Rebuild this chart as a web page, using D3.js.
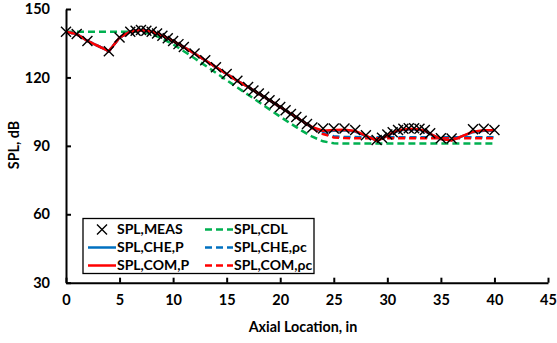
<!DOCTYPE html>
<html>
<head>
<meta charset="utf-8">
<style>
body { margin: 0; background: #fff; }
svg text { font-family: Lato, "Open Sans", sans-serif; font-weight: bold; fill: #000; }
</style>
</head>
<body>
<svg id="chart" width="557" height="343"></svg>
<script src="https://cdn.jsdelivr.net/npm/d3@7"></script>
<script>
var measX = [0, 1, 2, 4, 5, 6, 6.5, 7, 7.5, 8, 8.5, 9, 9.5, 10, 10.5, 11, 12, 13, 14, 15, 16,
             17, 17.5, 18, 18.5, 19, 19.5, 20, 20.5, 21, 21.5, 22, 22.5, 23, 24, 25, 26, 27, 28,
             29, 29.5, 30, 30.5, 31, 31.5, 32, 32.5, 33, 33.5, 34, 35, 36, 38, 39, 40];
var measY = [140, 139, 136, 131.5, 137.5, 140, 140.5, 140.8, 140.5, 140, 139.3, 138.3, 137.2, 136, 134.6, 133.3, 130.5, 127.5, 124.5, 121.5, 118.5,
             115.8, 114.3, 112.9, 111.5, 110, 108.6, 107, 105.6, 104, 102.6, 101, 99.6, 98, 97.6, 97.6, 97.6, 97, 94.7,
             92.6, 93.6, 95, 96, 96.9, 97.5, 97.7, 97.7, 97.5, 96.9, 95.5, 93.3, 93.2, 97.3, 97.5, 97];

var comPY = [140, 139, 136, 131.5, 137.5, 140, 140.5, 140.7, 140.5, 140, 139.3, 138.3, 137.2, 136, 134.6, 133.3, 130.5, 127.5, 124.5, 121.5, 118.5,
             115.8, 114.3, 112.9, 111.5, 110, 108.6, 107, 105.6, 104, 102.6, 101, 99.6, 98.2, 96.6, 96.9, 97.1, 96.5, 94.5,
             92.3, 93.2, 94.5, 95.8, 96.7, 97.2, 97.4, 97.4, 97.2, 96.6, 95.3, 93, 92.4, 96.2, 96.8, 96.8];
var cheP = [140, 139, 136, 131.5, 137.5, 140, 140.5, 140.7, 140.5, 140, 139.3, 138.3, 137.2, 136, 134.6, 133.3, 130.5, 127.5, 124.5, 121.5, 118.5,
            115.8, 114.3, 112.9, 111.5, 110, 108.6, 107, 105.6, 104, 102.6, 101, 99.6, 98, 96.3, 96.6, 96.8, 96.3, 94.3,
            92.4, 93.2, 94.4, 95.6, 96.5, 97, 97.2, 97.2, 97, 96.4, 95.1, 93, 92.5, 96, 96.6, 96.6];

var rhoX = [0, 1, 2, 4, 5, 6, 7, 8, 9, 10, 11, 12, 13, 14, 15, 16, 17, 18, 19, 20, 21, 22, 23, 24, 25, 26, 28, 30, 32, 34, 36, 38, 40];
var cheRho = [140, 139, 136, 131.5, 137.5, 140, 140.7, 140, 138.3, 136, 133.3, 130.5, 127.5, 124.5, 121.5, 118.5, 115.8, 112.9, 110, 107, 104, 101, 98, 95.5, 94.2, 93.9, 93.8, 93.8, 93.8, 93.8, 93.8, 93.8, 93.8];
var comRho = [140, 139, 136, 131.5, 137.5, 140, 140.7, 140, 138.3, 136, 133.3, 130.5, 127.5, 124.5, 121.5, 118.5, 115.8, 112.9, 110, 107, 104, 101, 97.8, 95.2, 93.7, 93.4, 93.3, 93.3, 93.3, 93.3, 93.3, 93.3, 93.3];

var cdlX = [0, 6, 7, 8, 9, 10, 11, 12, 13, 14, 15, 16, 17, 18, 19, 20, 21, 22, 23, 24, 25, 26, 40];
var cdlY = [140, 140, 140, 139, 137, 134.5, 131.5, 128.4, 125.2, 122, 118.8, 115.6, 112.4, 109.2, 106, 102.8, 99.7, 96.7, 94, 92, 91.1, 91, 91];

var xTicks = [0, 5, 10, 15, 20, 25, 30, 35, 40, 45];
var yTicks = [30, 60, 90, 120, 150];

var svg = d3.select("#chart");

var x = d3.scaleLinear().domain([0, 45]).range([66, 548]);
var y = d3.scaleLinear().domain([30, 150]).range([282.7, 9]);

function pts(xs, ys) {
  return xs.map(function(v, i) { return [v, ys[i]]; });
}

var line = d3.line()
    .x(function(d) { return x(d[0]); })
    .y(function(d) { return y(d[1]); });

var series = [
  { name: "SPL,CDL", data: pts(cdlX, cdlY), color: "#00B050", dash: "7,4" },
  { name: "SPL,CHE,\u03c1c", data: pts(rhoX, cheRho), color: "#0070C0", dash: "7,4" },
  { name: "SPL,COM,\u03c1c", data: pts(rhoX, comRho), color: "#FF0000", dash: "7,4" },
  { name: "SPL,CHE,P", data: pts(measX, cheP), color: "#0070C0", dash: null },
  { name: "SPL,COM,P", data: pts(measX, comPY), color: "#FF0000", dash: null }
];

svg.append("g").selectAll("path")
    .data(series)
    .enter().append("path")
    .attr("d", function(d) { return line(d.data); })
    .attr("fill", "none")
    .attr("stroke", function(d) { return d.color; })
    .attr("stroke-width", 2.5)
    .attr("stroke-dasharray", function(d) { return d.dash; });

function cross(g, cx, cy) {
  var s = 5;
  g.append("path")
    .attr("d", "M" + (cx - s) + "," + (cy - s) + "L" + (cx + s) + "," + (cy + s) +
               "M" + (cx - s) + "," + (cy + s) + "L" + (cx + s) + "," + (cy - s))
    .attr("stroke", "#000")
    .attr("stroke-width", 1.4)
    .attr("fill", "none");
}

var marks = svg.append("g");
measX.forEach(function(v, i) { cross(marks, x(v), y(measY[i])); });

// axes
var xAxis = d3.axisBottom(x).tickValues(xTicks).tickSizeInner(-5).tickSizeOuter(0).tickPadding(12);
var yAxis = d3.axisLeft(y).tickValues(yTicks).tickSizeInner(-5).tickSizeOuter(0).tickPadding(14);

var gx = svg.append("g").attr("transform", "translate(0," + y(30) + ")").call(xAxis);
var gy = svg.append("g").attr("transform", "translate(" + x(0) + ",0)").call(yAxis);

[gx, gy].forEach(function(g) {
  g.select(".domain").attr("stroke", "#000").attr("stroke-width", 2);
  g.selectAll(".tick line").attr("stroke", "#000").attr("stroke-width", 2);
  g.selectAll(".tick text").style("font-size", "14.5px").style("font-family", "Lato, sans-serif").style("font-weight", "bold");
});
gy.selectAll(".tick text").attr("x", -16);

svg.append("text")
    .attr("x", 303)
    .attr("y", 332)
    .attr("text-anchor", "middle")
    .style("font-size", "14.3px")
    .text("Axial Location, in");

svg.append("text")
    .attr("transform", "translate(19,145) rotate(-90)")
    .attr("text-anchor", "middle")
    .style("font-size", "14.3px")
    .text("SPL, dB");

// legend
var legend = svg.append("g");
legend.append("rect")
    .attr("x", 83).attr("y", 218.5)
    .attr("width", 231).attr("height", 55)
    .attr("fill", "#fff")
    .attr("stroke", "#000")
    .attr("stroke-width", 1.3);

var legItems = [
  { name: "SPL,MEAS", col: 0, row: 0, marker: true },
  { name: "SPL,CDL", col: 1, row: 0, s: series[0] },
  { name: "SPL,CHE,P", col: 0, row: 1, s: series[3] },
  { name: "SPL,CHE,\u03c1c", col: 1, row: 1, s: series[1] },
  { name: "SPL,COM,P", col: 0, row: 2, s: series[4] },
  { name: "SPL,COM,\u03c1c", col: 1, row: 2, s: series[2] }
];
var colX = [88, 205];
var rowY = [229.5, 247.5, 265.5];

legItems.forEach(function(it) {
  var lx = colX[it.col], ly = rowY[it.row];
  if (it.marker) {
    cross(legend, lx + 14, ly);
  } else {
    legend.append("line")
      .attr("x1", lx).attr("x2", lx + 28)
      .attr("y1", ly).attr("y2", ly)
      .attr("stroke", it.s.color)
      .attr("stroke-width", 2.5)
      .attr("stroke-dasharray", it.s.dash);
  }
  legend.append("text")
    .attr("x", lx + 29)
    .attr("y", ly)
    .attr("dy", "0.35em")
    .style("font-size", "14px")
    .text(it.name);
});
</script>
</body>
</html>
